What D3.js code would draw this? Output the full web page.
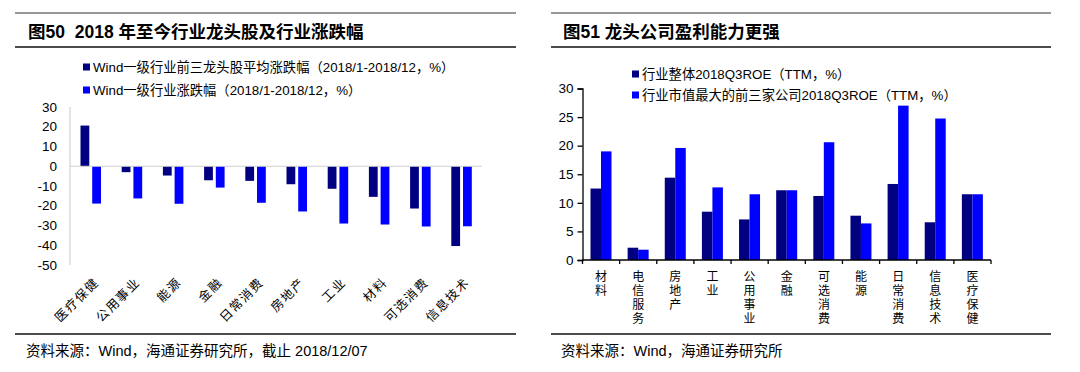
<!DOCTYPE html>
<html>
<head>
<meta charset="utf-8">
<script src="https://cdn.jsdelivr.net/npm/d3@7"></script>
<style>
  body { margin: 0; background: #fff; }
  svg text { font-family: Arial, "Liberation Sans", "Noto Sans CJK SC", sans-serif; fill: #000; white-space: pre; }
</style>
</head>
<body>
<div id="chart"></div>
<script>
// left chart: 2018 change of top-3 leaders vs industry
const leftCats = ['医疗保健', '公用事业', '能源', '金融', '日常消费', '房地产', '工业', '材料', '可选消费', '信息技术'];
const leftLeaders = [20.6, -3.0, -4.7, -7.1, -7.4, -9.1, -11.4, -15.5, -21.4, -40.4];
const leftIndustry = [-18.9, -16.3, -19.0, -10.8, -18.5, -22.9, -29.0, -29.5, -30.5, -30.4];
const leftTicks = [30, 20, 10, 0, -10, -20, -30, -40, -50];
const leftLegend = ['Wind一级行业前三龙头股平均涨跌幅（2018/1-2018/12，%）', 'Wind一级行业涨跌幅（2018/1-2018/12，%）'];

// right chart: ROE industry vs top-3 by market cap
const rightCats = ['材料', '电信服务', '房地产', '工业', '公用事业', '金融', '可选消费', '能源', '日常消费', '信息技术', '医疗保健'];
const rightIndustry = [12.5, 2.15, 14.4, 8.45, 7.1, 12.2, 11.2, 7.75, 13.3, 6.6, 11.5];
const rightTop3 = [19.0, 1.8, 19.6, 12.7, 11.5, 12.2, 20.6, 6.4, 27.0, 24.75, 11.5];
const rightTicks = [0, 5, 10, 15, 20, 25, 30];
const rightLegend = ['行业整体2018Q3ROE（TTM，%）', '行业市值最大的前三家公司2018Q3ROE（TTM，%）'];

const colors = ['#000080', '#0000ff'];

const svg = d3.select('#chart').append('svg')
  .attr('width', 1080)
  .attr('height', 372);

svg.append('rect').attr('width', 1080).attr('height', 372).attr('fill', '#fff');

// frame: rules, title, source
function frame(x0, x1, titleX, title, source) {
  svg.append('line').attr('x1', x0).attr('x2', x1).attr('y1', 13).attr('y2', 13)
    .attr('stroke', '#333').attr('stroke-width', 1);
  svg.append('line').attr('x1', x0).attr('x2', x1).attr('y1', 47).attr('y2', 47)
    .attr('stroke', '#111').attr('stroke-width', 1.6);
  svg.append('line').attr('x1', x0).attr('x2', x1).attr('y1', 334).attr('y2', 334)
    .attr('stroke', '#111').attr('stroke-width', 1.6);
  svg.append('text').attr('x', titleX).attr('y', 38)
    .attr('font-size', 17.5).attr('font-weight', 'bold').text(title);
  svg.append('text').attr('x', titleX - 2).attr('y', 356)
    .attr('font-size', 14.5).text(source);
}

frame(15, 516, 28, '图50  2018 年至今行业龙头股及行业涨跌幅', '资料来源：Wind，海通证券研究所，截止 2018/12/07');
frame(551, 1051, 563, '图51 龙头公司盈利能力更强', '资料来源：Wind，海通证券研究所');

function legend(x, ys, labels) {
  labels.forEach((t, i) => {
    svg.append('rect').attr('x', x).attr('y', ys[i] - 3.5).attr('width', 7).attr('height', 7)
      .attr('fill', colors[i]);
    svg.append('text').attr('x', x + 10).attr('y', ys[i]).attr('dy', '0.35em')
      .attr('font-size', 13.3).text(t);
  });
}

// ---- left chart ----
const xL = d3.scaleBand().domain(leftCats).range([70, 482]);
const xL1 = d3.scaleBand().domain([0, 1]).range([10.5, 31]).paddingInner(0.25);
const yL = d3.scaleLinear().domain([-50, 30]).range([265, 107]);

svg.append('g').selectAll('text').data(leftTicks).join('text')
  .attr('x', 57).attr('y', (d) => yL(d)).attr('dy', '0.35em')
  .attr('text-anchor', 'end').attr('font-size', 13.5).text((d) => d);

svg.append('line').attr('x1', 70).attr('x2', 70).attr('y1', yL(30)).attr('y2', yL(-50))
  .attr('stroke', '#c8c8c8');

const leftSeries = [leftLeaders, leftIndustry];
leftSeries.forEach((vals, s) => {
  svg.append('g').selectAll('rect').data(vals).join('rect')
    .attr('x', (d, i) => xL(leftCats[i]) + xL1(s))
    .attr('width', xL1.bandwidth())
    .attr('y', (d) => yL(Math.max(0, d)))
    .attr('height', (d) => Math.abs(yL(d) - yL(0)))
    .attr('fill', colors[s]);
});

svg.append('line').attr('x1', 70).attr('x2', 482).attr('y1', yL(0)).attr('y2', yL(0))
  .attr('stroke', '#d0d0d0');

svg.append('g').selectAll('text').data(leftCats).join('text')
  .attr('transform', (d) => `translate(${xL(d) + xL.bandwidth() / 2 + 6},${280}) rotate(-45)`)
  .attr('text-anchor', 'end').attr('dy', '0.35em')
  .attr('letter-spacing', 1.5)
  .attr('font-size', 12.5).text((d) => d);

legend(83, [67, 90], leftLegend);

// ---- right chart ----
const xR = d3.scaleBand().domain(rightCats).range([582.5, 991]);
const xR1 = d3.scaleBand().domain([0, 1]).range([8, 29]);
const yR = d3.scaleLinear().domain([0, 30]).range([260, 88.5]);

const rightSeries = [rightIndustry, rightTop3];
rightSeries.forEach((vals, s) => {
  svg.append('g').selectAll('rect').data(vals).join('rect')
    .attr('x', (d, i) => xR(rightCats[i]) + xR1(s))
    .attr('width', xR1.bandwidth())
    .attr('y', (d) => yR(d))
    .attr('height', (d) => yR(0) - yR(d))
    .attr('fill', colors[s]);
});

const yAxisR = svg.append('g').attr('transform', 'translate(582.5,0)')
  .call(d3.axisLeft(yR).tickValues(rightTicks).tickSize(5).tickPadding(4));
yAxisR.select('.domain').attr('stroke', '#000').attr('stroke-width', 1.3);
yAxisR.selectAll('.tick line').attr('stroke', '#000').attr('stroke-width', 1.3);
yAxisR.selectAll('.tick text').attr('font-size', 13.5).attr('font-family', null);

// category axis with ticks between bands
const xAxisR = svg.append('g').attr('transform', `translate(0,${yR(0)})`);
xAxisR.append('line').attr('x1', 582.5).attr('x2', 991).attr('stroke', '#000').attr('stroke-width', 1.3);
xAxisR.selectAll('line.tk').data(rightCats.concat(['end'])).join('line').attr('class', 'tk')
  .attr('x1', (d, i) => 582.5 + i * xR.step()).attr('x2', (d, i) => 582.5 + i * xR.step())
  .attr('y1', 0).attr('y2', 4).attr('stroke', '#000').attr('stroke-width', 1.3);

const labR = svg.append('g').selectAll('g').data(rightCats).join('g')
  .attr('transform', (d) => `translate(${xR(d) + xR.bandwidth() / 2},0)`);
labR.selectAll('text').data((d) => Array.from(d)).join('text')
  .attr('x', 0).attr('y', (d, i) => 277 + i * 14).attr('dy', '0.35em')
  .attr('text-anchor', 'middle').attr('font-size', 12).text((d) => d);

legend(632, [74, 95], rightLegend);
</script>
</body>
</html>
